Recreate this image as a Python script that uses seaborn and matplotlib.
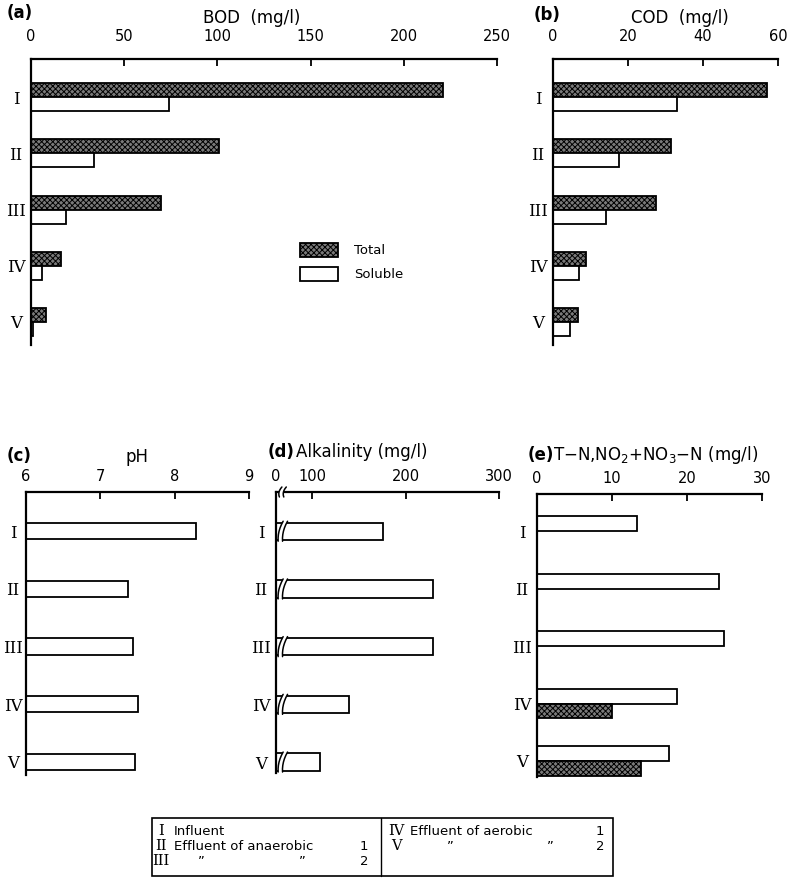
import numpy as np
import pandas as pd
import matplotlib
matplotlib.use("Agg")
import matplotlib.pyplot as plt
import matplotlib.transforms as mtransforms
from matplotlib.patches import Rectangle, Polygon
from matplotlib.lines import Line2D
import seaborn as sns

# ---------------- data ----------------
stations = ["I", "II", "III", "IV", "V"]
bod_total = [221, 101, 70, 16, 8]
bod_soluble = [74, 34, 19, 6, 1]
cod_total = [57, 31.5, 27.5, 8.8, 6.7]
cod_soluble = [33, 17.5, 14, 7, 4.5]
ph_values = [8.29, 7.37, 7.44, 7.51, 7.47]
alkalinity = [176, 229, 229, 140, 108]
tn_values = [13.3, 24.3, 24.9, 18.6, 17.6]
nox_values = [np.nan, np.nan, np.nan, 10.0, 13.8]

bod_ticks = [0, 50, 100, 150, 200, 250]
cod_ticks = [0, 20, 40, 60]
ph_ticks = [6, 7, 8, 9]
alk_ticks = [0, 100, 200, 300]
n_ticks = [0, 10, 20, 30]

kinds = ["Total", "Soluble"]
n_kinds = ["T-N", "NO2+NO3-N"]

# ---------------- style ----------------
sns.set_theme(style="white")
plt.rcParams["font.family"] = ["DejaVu Sans"]
plt.rcParams["mathtext.default"] = "regular"
plt.rcParams["hatch.linewidth"] = 0.7
for key in ["text.color", "axes.labelcolor", "xtick.color", "ytick.color"]:
    plt.rcParams[key] = "black"

W, H = 791, 888
fig = plt.figure(figsize=(W / 100, H / 100), dpi=100)

GRAY = "#7a7a7a"
HATCH = "xxxxxx"
EDGE_LW = 1.3


def rect(l, t, r, b):
    return [l / W, 1 - b / H, (r - l) / W, (b - t) / H]


def fx(x):
    return x / W


def fy(y):
    return 1 - y / H


def style_axis(ax, ticks, xlim, ylim, label_dist_px=15, tick_pad=10):
    ax.set_xlim(*xlim)
    ax.set_ylim(*ylim)
    ax.xaxis.tick_top()
    ax.set_xticks(ticks)
    ax.set_xticklabels([str(t) for t in ticks], fontsize=10.5, color="black")
    ax.tick_params(axis="x", direction="in", length=5, width=1.3, pad=tick_pad,
                   colors="black", top=True, bottom=False)
    ax.tick_params(axis="y", length=0, pad=label_dist_px * 0.72, colors="black")
    for s in ["right", "bottom"]:
        ax.spines[s].set_visible(False)
    for s in ["top", "left"]:
        ax.spines[s].set_visible(True)
        ax.spines[s].set_color("black")
        ax.spines[s].set_linewidth(1.6)
    ax.set_xlabel("")
    ax.set_ylabel("")
    for lbl in ax.get_yticklabels():
        lbl.set_fontfamily("DejaVu Serif")
        lbl.set_fontsize(12)
        lbl.set_ha("center")
        lbl.set_color("black")
    ax.set_facecolor("white")


def hatch_gray(ax):
    ref = matplotlib.colors.to_rgba(GRAY)
    for p in ax.patches:
        fc = p.get_facecolor()
        if abs(fc[0] - ref[0]) < 0.02 and fc[3] > 0:
            p.set_hatch(HATCH)


# ---------------- (a) BOD ----------------
ax_a = fig.add_axes(rect(31, 59, 497, 345))
df_a = pd.DataFrame({"station": stations * 2,
                     "kind": [kinds[0]] * 5 + [kinds[1]] * 5,
                     "value": bod_total + bod_soluble})
sns.barplot(data=df_a, y="station", x="value", hue="kind", hue_order=kinds,
            orient="h", width=0.5, gap=0, palette=[GRAY, "white"],
            edgecolor="black", linewidth=EDGE_LW, legend=False, ax=ax_a)
hatch_gray(ax_a)
style_axis(ax_a, bod_ticks, (0, 250), (4.41, -0.68), tick_pad=11)
handles = [Rectangle((0, 0), 1, 1, facecolor=GRAY, hatch=HATCH, edgecolor="black", lw=EDGE_LW),
           Rectangle((0, 0), 1, 1, facecolor="white", edgecolor="black", lw=EDGE_LW)]
ax_a.legend(handles, kinds, loc="upper left", bbox_to_anchor=(fx(300), fy(243)),
            bbox_transform=fig.transFigure, frameon=False, fontsize=9.5,
            handlelength=2.9, handleheight=1.2, labelspacing=0.75,
            handletextpad=1.2, borderaxespad=0, borderpad=0)

# ---------------- (b) COD ----------------
ax_b = fig.add_axes(rect(553, 59, 778, 345))
df_b = pd.DataFrame({"station": stations * 2,
                     "kind": [kinds[0]] * 5 + [kinds[1]] * 5,
                     "value": cod_total + cod_soluble})
sns.barplot(data=df_b, y="station", x="value", hue="kind", hue_order=kinds,
            orient="h", width=0.5, gap=0, palette=[GRAY, "white"],
            edgecolor="black", linewidth=EDGE_LW, legend=False, ax=ax_b)
hatch_gray(ax_b)
style_axis(ax_b, cod_ticks, (0, 60), (4.41, -0.68), tick_pad=11)

# ---------------- (c) pH ----------------
ax_c = fig.add_axes(rect(26, 492, 249, 775))
df_c = pd.DataFrame({"station": stations, "value": ph_values})
sns.barplot(data=df_c, y="station", x="value", orient="h", width=0.28,
            color="white", edgecolor="black", linewidth=EDGE_LW, ax=ax_c)
style_axis(ax_c, ph_ticks, (6, 9), (4.23, -0.68), label_dist_px=13, tick_pad=6)

# ---------------- (d) Alkalinity (broken axis) ----------------
ALK_BREAK = 70.0
K_LOW = 0.122


def alk_fwd(v):
    v = np.asarray(v, dtype=float)
    return np.where(v < ALK_BREAK, v * K_LOW, ALK_BREAK * K_LOW + (v - ALK_BREAK))


def alk_inv(u):
    u = np.asarray(u, dtype=float)
    return np.where(u < ALK_BREAK * K_LOW, u / K_LOW, u - ALK_BREAK * K_LOW + ALK_BREAK)


ax_d = fig.add_axes(rect(276, 492, 499, 773))
df_d = pd.DataFrame({"station": stations, "value": alkalinity})
sns.barplot(data=df_d, y="station", x="value", orient="h", width=0.3,
            color="white", edgecolor="black", linewidth=EDGE_LW, ax=ax_d)
ax_d.set_xscale("function", functions=(alk_fwd, alk_inv))
style_axis(ax_d, alk_ticks, (0, 300), (4.19, -0.68), tick_pad=6)

# ---------------- (e) Nitrogen ----------------
ax_e = fig.add_axes(rect(537, 494, 762, 777))
df_e = pd.DataFrame({"station": stations * 2,
                     "kind": [n_kinds[0]] * 5 + [n_kinds[1]] * 5,
                     "value": tn_values + nox_values})
sns.barplot(data=df_e, y="station", x="value", hue="kind", hue_order=n_kinds,
            orient="h", width=0.52, gap=0, palette=["white", GRAY],
            edgecolor="black", linewidth=EDGE_LW, legend=False, ax=ax_e)
hatch_gray(ax_e)
style_axis(ax_e, n_ticks, (0, 30), (4.28, -0.65), tick_pad=6)


# ---------------- axis-break marks on (d) ----------------
def draw_break(ax, xval, yval, half_px):
    x0, y0 = ax.transData.transform((xval, yval))
    ident = mtransforms.IdentityTransform()
    ys = np.linspace(-half_px, half_px, 7)
    bow = 1.6 * (1 - (ys / half_px) ** 2)
    slant = ys * 0.25
    left = x0 - 2.2 + slant - bow
    right = x0 + 2.2 + slant - bow
    poly = np.column_stack([np.concatenate([left, right[::-1]]),
                            np.concatenate([y0 + ys, y0 + ys[::-1]])])
    fig.add_artist(Polygon(poly, closed=True, facecolor="white", edgecolor="none",
                           transform=ident, zorder=5))
    for xs in (left, right):
        fig.add_artist(Line2D(xs, y0 + ys, color="black", lw=1.1,
                              transform=ident, zorder=6))


for i in range(len(stations)):
    draw_break(ax_d, 60, i, 10)
draw_break(ax_d, 60, -0.68, 5)

# ---------------- titles ----------------
tkw = dict(fontsize=12, va="center")
fig.text(fx(7), fy(13), "(a)", ha="left", fontweight="bold", **tkw)
fig.text(fx(252), fy(18), "BOD  (mg/l)", ha="center", **tkw)
fig.text(fx(534), fy(15), "(b)", ha="left", fontweight="bold", **tkw)
fig.text(fx(680), fy(18), "COD  (mg/l)", ha="center", **tkw)
fig.text(fx(7), fy(456), "(c)", ha="left", fontweight="bold", **tkw)
fig.text(fx(137), fy(457), "pH", ha="center", **tkw)
fig.text(fx(268), fy(452), "(d)", ha="left", fontweight="bold", **tkw)
fig.text(fx(296), fy(452), "Alkalinity (mg/l)", ha="left", **tkw)
fig.text(fx(528), fy(455), "(e)", ha="left", fontweight="bold", **tkw)
fig.text(fx(553), fy(455), "T$-$N,NO$_2$+NO$_3$$-$N (mg/l)", ha="left", **tkw)

# ---------------- bottom station legend ----------------
fig.add_artist(Rectangle((fx(152), fy(876)), (613 - 152) / W, (876 - 818) / H,
                         transform=fig.transFigure, fill=False, lw=1.2,
                         edgecolor="black"))
fig.add_artist(Line2D([fx(381), fx(381)], [fy(818), fy(876)],
                      transform=fig.transFigure, color="black", lw=1.0))
lkw = dict(fontsize=9.5, va="center")
skw = dict(fontsize=10.5, va="center", ha="center", fontfamily="DejaVu Serif")
rows_y = [831, 846, 861]
fig.text(fx(161), fy(rows_y[0]), stations[0], **skw)
fig.text(fx(174), fy(rows_y[0]), "Influent", **lkw)
fig.text(fx(161), fy(rows_y[1]), stations[1], **skw)
fig.text(fx(174), fy(rows_y[1]), "Effluent of anaerobic", **lkw)
fig.text(fx(364), fy(rows_y[1]), "1", ha="center", **lkw)
fig.text(fx(161), fy(rows_y[2]), stations[2], **skw)
fig.text(fx(201), fy(rows_y[2]), "\u201d", ha="center", **lkw)
fig.text(fx(302), fy(rows_y[2]), "\u201d", ha="center", **lkw)
fig.text(fx(364), fy(rows_y[2]), "2", ha="center", **lkw)
fig.text(fx(396), fy(rows_y[0]), stations[3], **skw)
fig.text(fx(410), fy(rows_y[0]), "Effluent of aerobic", **lkw)
fig.text(fx(600), fy(rows_y[0]), "1", ha="center", **lkw)
fig.text(fx(396), fy(rows_y[1]), stations[4], **skw)
fig.text(fx(450), fy(rows_y[1]), "\u201d", ha="center", **lkw)
fig.text(fx(550), fy(rows_y[1]), "\u201d", ha="center", **lkw)
fig.text(fx(600), fy(rows_y[1]), "2", ha="center", **lkw)

fig.savefig("out.png", dpi=100, facecolor="white")
